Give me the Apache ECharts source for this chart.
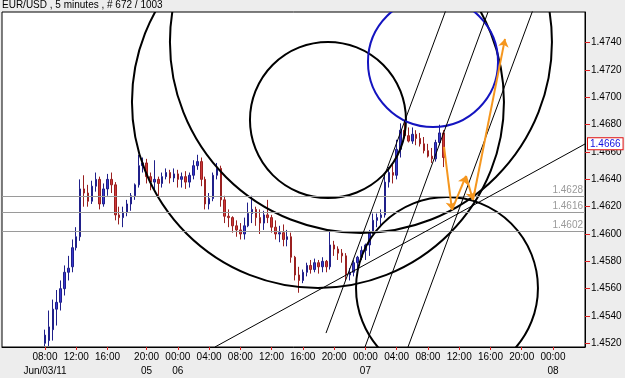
<!DOCTYPE html>
<html>
<head>
<meta charset="utf-8">
<script src="https://cdn.jsdelivr.net/npm/echarts@6/dist/echarts.min.js"></script>
<style>
  html, body { margin: 0; padding: 0; background: #ededed; }
  #main { width: 625px; height: 378px; }
</style>
</head>
<body>
<div id="main"></div>
<script>
// half-hour bars, x = trading hours since Jun/03 00:00 (weekend removed)
const barStartHour = 8;
const barStepHours = 0.5;
// [open, close, low, high]
const bars = [
  [1.4520, 1.4526, 1.4518, 1.4530], [1.4522, 1.4532, 1.4518, 1.4544], [1.4530, 1.4545, 1.4522, 1.4552],
  [1.4545, 1.4550, 1.4533, 1.4559], [1.4550, 1.4560, 1.4544, 1.4566], [1.4560, 1.4572, 1.4555, 1.4577],
  [1.4572, 1.4575, 1.4566, 1.4584], [1.4576, 1.4590, 1.4572, 1.4596], [1.4590, 1.4598, 1.4588, 1.4605],
  [1.4598, 1.4633, 1.4595, 1.4640], [1.4633, 1.4630, 1.4620, 1.4643], [1.4630, 1.4624, 1.4620, 1.4636],
  [1.4624, 1.4635, 1.4622, 1.4639], [1.4635, 1.4640, 1.4631, 1.4645], [1.4640, 1.4622, 1.4618, 1.4642],
  [1.4622, 1.4633, 1.4620, 1.4637], [1.4633, 1.4640, 1.4628, 1.4644], [1.4640, 1.4636, 1.4630, 1.4645],
  [1.4636, 1.4614, 1.4610, 1.4638], [1.4614, 1.4612, 1.4607, 1.4620], [1.4612, 1.4616, 1.4605, 1.4620],
  [1.4616, 1.4622, 1.4613, 1.4625], [1.4622, 1.4628, 1.4617, 1.4630], [1.4628, 1.4636, 1.4625, 1.4637],
  [1.4636, 1.4650, 1.4634, 1.4658], [1.4650, 1.4652, 1.4645, 1.4656], [1.4652, 1.4642, 1.4637, 1.4655],
  [1.4642, 1.4638, 1.4632, 1.4645], [1.4638, 1.4640, 1.4631, 1.4654], [1.4640, 1.4637, 1.4628, 1.4642],
  [1.4637, 1.4642, 1.4634, 1.4645], [1.4642, 1.4645, 1.4640, 1.4648], [1.4645, 1.4641, 1.4637, 1.4647],
  [1.4641, 1.4644, 1.4638, 1.4648], [1.4644, 1.4640, 1.4634, 1.4647], [1.4640, 1.4642, 1.4634, 1.4645],
  [1.4642, 1.4638, 1.4633, 1.4646], [1.4638, 1.4643, 1.4634, 1.4645], [1.4643, 1.4650, 1.4640, 1.4654],
  [1.4650, 1.4653, 1.4647, 1.4658], [1.4653, 1.4640, 1.4635, 1.4656], [1.4640, 1.4622, 1.4618, 1.4642],
  [1.4622, 1.4626, 1.4618, 1.4630], [1.4626, 1.4643, 1.4624, 1.4645], [1.4643, 1.4648, 1.4640, 1.4652],
  [1.4648, 1.4625, 1.4620, 1.4650], [1.4625, 1.4613, 1.4608, 1.4628], [1.4613, 1.4612, 1.4605, 1.4618],
  [1.4612, 1.4606, 1.4601, 1.4613], [1.4606, 1.4603, 1.4598, 1.4610], [1.4603, 1.4600, 1.4596, 1.4608],
  [1.4600, 1.4606, 1.4596, 1.4612], [1.4606, 1.4615, 1.4605, 1.4623], [1.4615, 1.4618, 1.4608, 1.4628],
  [1.4618, 1.4612, 1.4606, 1.4620], [1.4612, 1.4608, 1.4600, 1.4618], [1.4608, 1.4614, 1.4603, 1.4617],
  [1.4614, 1.4612, 1.4608, 1.4625], [1.4612, 1.4605, 1.4601, 1.4614], [1.4605, 1.4600, 1.4596, 1.4610],
  [1.4600, 1.4601, 1.4594, 1.4606], [1.4601, 1.4596, 1.4591, 1.4607], [1.4596, 1.4598, 1.4591, 1.4603],
  [1.4598, 1.4583, 1.4579, 1.4601], [1.4583, 1.4570, 1.4566, 1.4584], [1.4570, 1.4566, 1.4557, 1.4576],
  [1.4566, 1.4572, 1.4564, 1.4574], [1.4572, 1.4577, 1.4569, 1.4579], [1.4577, 1.4574, 1.4571, 1.4581],
  [1.4574, 1.4579, 1.4572, 1.4582], [1.4579, 1.4576, 1.4571, 1.4581], [1.4576, 1.4580, 1.4572, 1.4583],
  [1.4580, 1.4576, 1.4572, 1.4581], [1.4576, 1.4592, 1.4574, 1.4603], [1.4592, 1.4589, 1.4584, 1.4595],
  [1.4589, 1.4586, 1.4581, 1.4591], [1.4586, 1.4584, 1.4579, 1.4589], [1.4584, 1.4570, 1.4566, 1.4586],
  [1.4570, 1.4572, 1.4566, 1.4575], [1.4572, 1.4579, 1.4569, 1.4581], [1.4579, 1.4583, 1.4574, 1.4584],
  [1.4583, 1.4588, 1.4581, 1.4591], [1.4588, 1.4592, 1.4581, 1.4593], [1.4592, 1.4601, 1.4584, 1.4603],
  [1.4601, 1.4610, 1.4600, 1.4615], [1.4610, 1.4612, 1.4605, 1.4615], [1.4612, 1.4614, 1.4605, 1.4618],
  [1.4614, 1.4638, 1.4612, 1.4643], [1.4638, 1.4645, 1.4634, 1.4649], [1.4645, 1.4643, 1.4637, 1.4652],
  [1.4643, 1.4662, 1.4640, 1.4669], [1.4662, 1.4676, 1.4656, 1.4681], [1.4676, 1.4672, 1.4670, 1.4682],
  [1.4672, 1.4668, 1.4667, 1.4678], [1.4668, 1.4673, 1.4666, 1.4678], [1.4673, 1.4670, 1.4665, 1.4676],
  [1.4670, 1.4666, 1.4664, 1.4674], [1.4666, 1.4661, 1.4659, 1.4671], [1.4661, 1.4657, 1.4656, 1.4666],
  [1.4657, 1.4655, 1.4652, 1.4663], [1.4655, 1.4667, 1.4653, 1.4669], [1.4667, 1.4674, 1.4665, 1.4680],
  [1.4674, 1.4656, 1.4649, 1.4676]
];

const tickHours = [8, 12, 16, 21, 25, 29, 33, 37, 41, 45, 49, 53, 57, 61, 65, 69, 73];
const tickLabels = [
  "08:00", "12:00", "16:00", "20:00", "00:00", "04:00", "08:00", "12:00",
  "16:00", "20:00", "00:00", "04:00", "08:00", "12:00", "16:00", "20:00", "00:00"
];
const dateHours = [8, 21, 25, 49, 73];
const dateLabels = ["Jun/03/11", "05", "06", "07", "08"];
const priceTicks = [1.452, 1.454, 1.456, 1.458, 1.46, 1.462, 1.464, 1.466, 1.468, 1.47, 1.472, 1.474];
const levelLines = [1.4628, 1.4616, 1.4602];
const lastPrice = 1.4666;

// [hour, price, radius in hours]
const blackCircles = [
  [42.93, 1.46967, 23.8],
  [44.21, 1.46835, 9.98],
  [48.43, 1.47406, 24.44],
  [59.44, 1.45605, 11.64]
];
const blueCircles = [[57.65, 1.47259, 8.32]];

const trendLines = [
  [[29.75, 1.45173], [77.1, 1.46659]],
  [[43.96, 1.45275], [59.31, 1.4764]],
  [[48.95, 1.45173], [64.69, 1.47625]],
  [[54.45, 1.45173], [70.44, 1.4764]]
];
const arrowPath = [[59.06, 1.46637], [60.08, 1.46176], [61.87, 1.46425], [62.77, 1.46249], [66.86, 1.47428]];

const candleData = bars.map((b, i) => [barStartHour + i * barStepHours, ...b]);

const circleRenderer = (color) => (params, api) => {
  const c = api.coord([api.value(0), api.value(1)]);
  const r = api.size([api.value(2), 0])[0];
  return {
    type: "circle",
    shape: { cx: c[0], cy: c[1], r: r },
    style: { fill: "none", stroke: color, lineWidth: 2 }
  };
};

const font = "Liberation Sans";
const xMin = 2.5;
const xMax = 77.1;

const option = {
  animation: false,
  backgroundColor: "#ededed",
  title: {
    text: "EUR/USD , 5 minutes , # 672 / 1003",
    left: 2,
    top: 0,
    padding: 0,
    textStyle: { fontSize: 10, fontWeight: "normal", color: "#000", fontFamily: font }
  },
  grid: {
    left: 2, right: 40, top: 12, bottom: 31,
    show: true, backgroundColor: "#fff", borderColor: "#000", borderWidth: 1
  },
  xAxis: [
    {
      type: "value",
      min: xMin,
      max: xMax,
      splitLine: { show: false },
      axisLine: { lineStyle: { color: "#000" } },
      axisTick: { customValues: tickHours, length: 3, lineStyle: { color: "#e02020" } },
      axisLabel: {
        customValues: tickHours,
        formatter: (v) => tickLabels[tickHours.indexOf(v)] || "",
        hideOverlap: false,
        color: "#000", fontSize: 10, fontFamily: font, margin: 3, lineHeight: 14
      }
    },
    {
      type: "value",
      position: "bottom",
      offset: 14,
      min: xMin,
      max: xMax,
      splitLine: { show: false },
      axisLine: { show: false },
      axisTick: { show: false },
      axisLabel: {
        customValues: dateHours,
        formatter: (v) => dateLabels[dateHours.indexOf(v)] || "",
        hideOverlap: false,
        color: "#000", fontSize: 10, fontFamily: font, margin: 3, lineHeight: 14
      }
    }
  ],
  yAxis: {
    type: "value",
    position: "right",
    min: 1.45173,
    max: 1.47625,
    splitLine: { show: false },
    axisLine: { show: true, lineStyle: { color: "#000" } },
    axisTick: { customValues: priceTicks, length: 5, lineStyle: { color: "#e02020" } },
    axisLabel: {
      customValues: priceTicks,
      formatter: (v) => v.toFixed(4),
      hideOverlap: false,
      color: "#000", fontSize: 10, fontFamily: font, margin: 6
    }
  },
  series: [
    {
      type: "candlestick",
      data: candleData,
      encode: { x: 0, y: [1, 2, 3, 4] },
      barWidth: 2,
      clip: true,
      itemStyle: {
        color: "#3838d0", color0: "#d03838",
        borderColor: "#20208a", borderColor0: "#9a2020", borderWidth: 1
      },
      z: 3
    },
    {
      type: "line",
      data: [],
      silent: true,
      z: 8,
      markLine: {
        silent: true,
        precision: 4,
        symbol: ["none", "none"],
        lineStyle: { color: "#9a9a9a", width: 1, type: "solid" },
        label: {
          position: "insideEndTop",
          formatter: (p) => p.value.toFixed(4),
          color: "#9a9a9a", fontSize: 10, fontFamily: font, distance: [2, 1]
        },
        data: levelLines.map((v) => ({ yAxis: v })).concat([{
          yAxis: lastPrice,
          lineStyle: { color: "rgba(0,0,0,0)", width: 0 },
          label: {
            position: "end",
            formatter: lastPrice.toFixed(4),
            color: "#1010e0", backgroundColor: "#fff",
            borderColor: "#e01010", borderWidth: 1,
            padding: [1, 2, 0, 2], distance: 3, fontSize: 10, fontFamily: font
          }
        }])
      }
    },
    {
      type: "custom",
      data: blackCircles,
      encode: { x: 0, y: 1 },
      renderItem: circleRenderer("#000"),
      clip: true,
      silent: true,
      z: 4
    },
    {
      type: "custom",
      data: blueCircles,
      encode: { x: 0, y: 1 },
      renderItem: circleRenderer("#1414c0"),
      clip: true,
      silent: true,
      z: 4
    },
    {
      type: "lines",
      coordinateSystem: "cartesian2d",
      data: trendLines.map((c) => ({ coords: c })),
      lineStyle: { color: "#000", width: 1, opacity: 1 },
      symbol: ["none", "none"],
      clip: true,
      silent: true,
      z: 5
    },
    {
      type: "lines",
      coordinateSystem: "cartesian2d",
      data: arrowPath.slice(1).map((p, i) => ({ coords: [arrowPath[i], p] })),
      lineStyle: { color: "#f5961e", width: 2, opacity: 1 },
      itemStyle: { color: "#f5961e" },
      symbol: ["none", "arrow"],
      symbolSize: 8,
      clip: true,
      silent: true,
      z: 6
    }
  ]
};

const chart = echarts.init(document.getElementById("main"));
chart.setOption(option);
</script>
</body>
</html>
